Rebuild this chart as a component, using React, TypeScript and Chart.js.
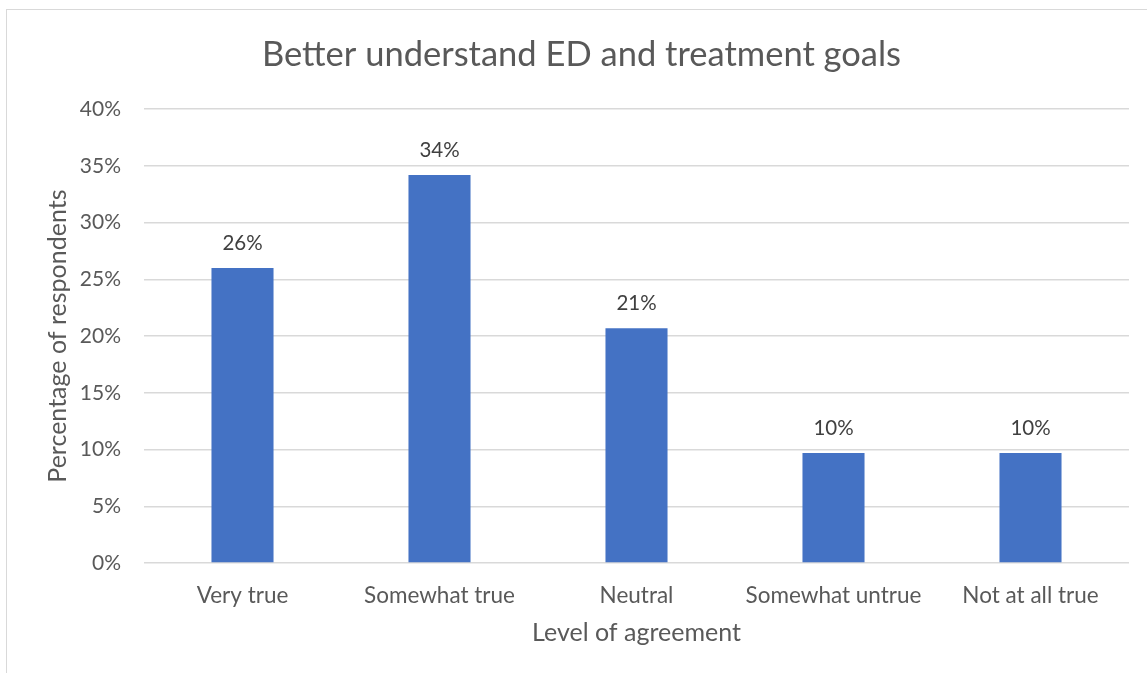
import React, { useEffect, useRef } from "react";
import { Chart, registerables } from "chart.js";

Chart.register(...registerables);

const categories = ["Very true", "Somewhat true", "Neutral", "Somewhat untrue", "Not at all true"];
const respondentShare = [26.0, 34.2, 20.7, 9.7, 9.7];
const yTickValues = [0, 5, 10, 15, 20, 25, 30, 35, 40];

const FONT = "Lato, 'Open Sans', sans-serif";
const TEXT_GREY = "#595959";
const LABEL_GREY = "#404040";
const GRID_GREY = "#d9d9d9";
const BAR_BLUE = "#4472c4";

// Prints each bar's rounded percentage just above it.
const barValueLabels = {
  id: "barValueLabels",
  afterDatasetsDraw(chart: any) {
    const ctx = chart.ctx;
    const meta = chart.getDatasetMeta(0);
    const values = chart.data.datasets[0].data as number[];
    ctx.save();
    ctx.font = `20.5px ${FONT}`;
    ctx.fillStyle = LABEL_GREY;
    ctx.textAlign = "center";
    ctx.textBaseline = "middle";
    meta.data.forEach((bar: any, i: number) => {
      ctx.fillText(`${Math.round(values[i])}%`, bar.x, bar.y - 25);
    });
    ctx.restore();
  },
};

export default function App() {
  const canvasRef = useRef<HTMLCanvasElement | null>(null);

  useEffect(() => {
    if (!canvasRef.current) return;
    const chart = new Chart(canvasRef.current, {
      type: "bar",
      data: {
        labels: categories,
        datasets: [
          {
            data: respondentShare,
            backgroundColor: BAR_BLUE,
            borderWidth: 0,
            categoryPercentage: 1,
            barPercentage: 0.315,
          },
        ],
      },
      plugins: [barValueLabels],
      options: {
        animation: false,
        responsive: false,
        maintainAspectRatio: false,
        layout: { padding: { left: 34, right: 18, top: 0, bottom: 0 } },
        plugins: {
          legend: { display: false },
          tooltip: { enabled: false },
          title: {
            display: true,
            text: "Better understand ED and treatment goals",
            color: TEXT_GREY,
            font: { family: FONT, size: 34.5, weight: "normal", lineHeight: 1.2 },
            padding: { top: 34.5, bottom: 33.3 },
          },
        },
        scales: {
          x: {
            grid: { display: false, drawTicks: false },
            border: { display: false },
            ticks: {
              color: TEXT_GREY,
              font: { family: FONT, size: 22.5 },
              padding: 19,
            },
            title: {
              display: true,
              text: "Level of agreement",
              color: TEXT_GREY,
              font: { family: FONT, size: 25, lineHeight: 1.2 },
              padding: { top: 0, bottom: 25 },
            },
            afterFit(scale: any) {
              scale.height = 110;
            },
          },
          y: {
            min: 0,
            max: 40,
            afterBuildTicks(scale: any) {
              scale.ticks = yTickValues.map((v) => ({ value: v }));
            },
            grid: { color: GRID_GREY, lineWidth: 1.5, drawTicks: false },
            border: { display: false },
            ticks: {
              color: TEXT_GREY,
              font: { family: FONT, size: 21 },
              padding: 23,
              callback: (v: any) => `${v}%`,
            },
            title: {
              display: true,
              text: "Percentage of respondents",
              color: TEXT_GREY,
              font: { family: FONT, size: 25, lineHeight: 1.2 },
              padding: { top: 9, bottom: 0 },
            },
            afterFit(scale: any) {
              scale.width = 110;
            },
          },
        },
      },
    });
    return () => chart.destroy();
  }, []);

  return (
    <div style={{ position: "fixed", left: 0, top: 0, width: 1147, height: 673, background: "#fff", overflow: "hidden" }}>
      <div
        style={{
          position: "absolute",
          left: 6,
          top: 9,
          width: 1160,
          height: 700,
          border: `1.5px solid ${GRID_GREY}`,
          boxSizing: "border-box",
        }}
      />
      <canvas ref={canvasRef} width={1147} height={673} style={{ position: "absolute", left: 0, top: 0 }} />
    </div>
  );
}
